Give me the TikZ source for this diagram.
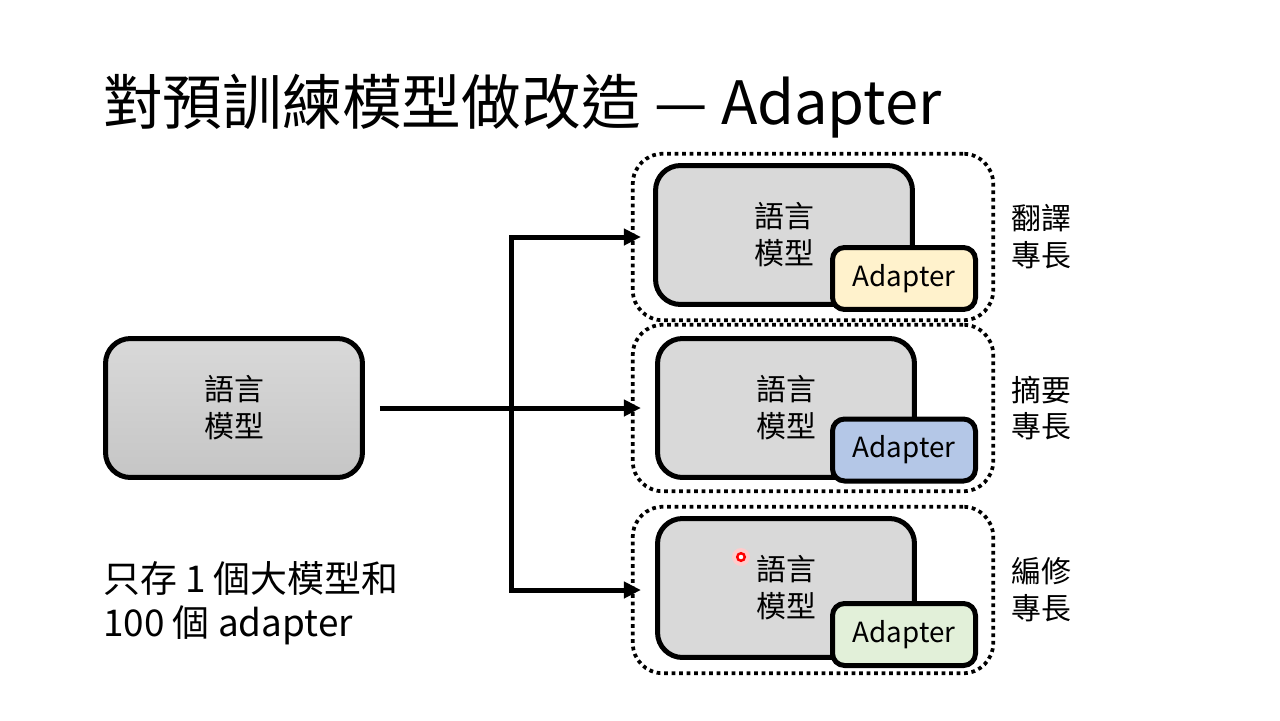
\documentclass[tikz,border=0pt]{standalone}
\usepackage{fontspec}
\setmainfont{Noto Sans CJK TC}
\usepackage{tikz}
\usetikzlibrary{arrows.meta, positioning}
\definecolor{adyellow}{HTML}{FFF2CC}
\definecolor{adblue}{HTML}{B4C7E7}
\definecolor{adgreen}{HTML}{E2F0D9}

\begin{document}
\begin{tikzpicture}[
                x=0.02cm, y=-0.02cm,
                node distance=0.2cm,
                lmbox/.style={draw, line width=0.1cm, rounded corners=0.5cm, fill=gray!30, minimum width=5.14cm, minimum height=2.78cm, align=center, font=\fontsize{17}{21}\selectfont},
                adbox/.style={draw, line width=0.1cm, rounded corners=0.24cm, minimum width=2.86cm, minimum height=1.24cm, font=\fontsize{15.8}{18}\selectfont},
                group/.style={draw, line width=0.075cm, dash pattern=on 0.075cm off 0.075cm, rounded corners=0.6cm, minimum width=7.21cm, minimum height=3.33cm},
                skill/.style={align=center, font=\fontsize{17}{21}\selectfont},
                link/.style={line width=0.1cm, -{Triangle[length=0.34cm, width=0.32cm]}, shorten >=-0.2cm}
            ]
                \useasboundingbox (0,0) rectangle (1280,720);

                \node[anchor=base west, font=\fontsize{34}{40}\selectfont] (title) at (97,124) {對預訓練模型做改造 — Adapter};

                \node[lmbox, fill=none, top color=gray!30, bottom color=gray!45] (base) at (234,408) {語言\\模型};

                \node[group] (grp1) at (813,237) {};
                \node[group] (grp2) at (813,408) {};
                \node[group] (grp3) at (813,590) {};

                \node[lmbox] (lm1) at (784,235) {語言\\模型};
                \node[lmbox] (lm2) at (786,408) {語言\\模型};
                \node[lmbox] (lm3) at (786,588) {語言\\模型};

                \node[adbox, fill=adyellow] (ad1) at (904,278.5) {Adapter};
                \node[adbox, fill=adblue] (ad2) at (904,450) {Adapter};
                \node[adbox, fill=adgreen] (ad3) at (904,634.5) {Adapter};

                \node[skill, right=of grp1] (skill1) {翻譯\\專長};
                \node[skill, right=of grp2] (skill2) {摘要\\專長};
                \node[skill, right=of grp3] (skill3) {編修\\專長};

                \node[anchor=west, align=left, font=\fontsize{21}{25}\selectfont] (note) at (97,603) {只存 1 個大模型和\\100 個 adapter};

                \coordinate (hub) at (511,408);
                \draw[link, shorten <=0.3cm] (base.east) -- (grp2.west);
                \draw[link, {Triangle[length=0.34cm, width=0.32cm]}-{Triangle[length=0.34cm, width=0.32cm]}, shorten <=-0.2cm] (grp1.west) -| (hub) |- (grp3.west);

                \fill[red!20] (741,557) circle (0.18cm);
                \draw[red, line width=0.05cm, fill=white] (741,557) circle (0.075cm);
            \end{tikzpicture}
\end{document}
